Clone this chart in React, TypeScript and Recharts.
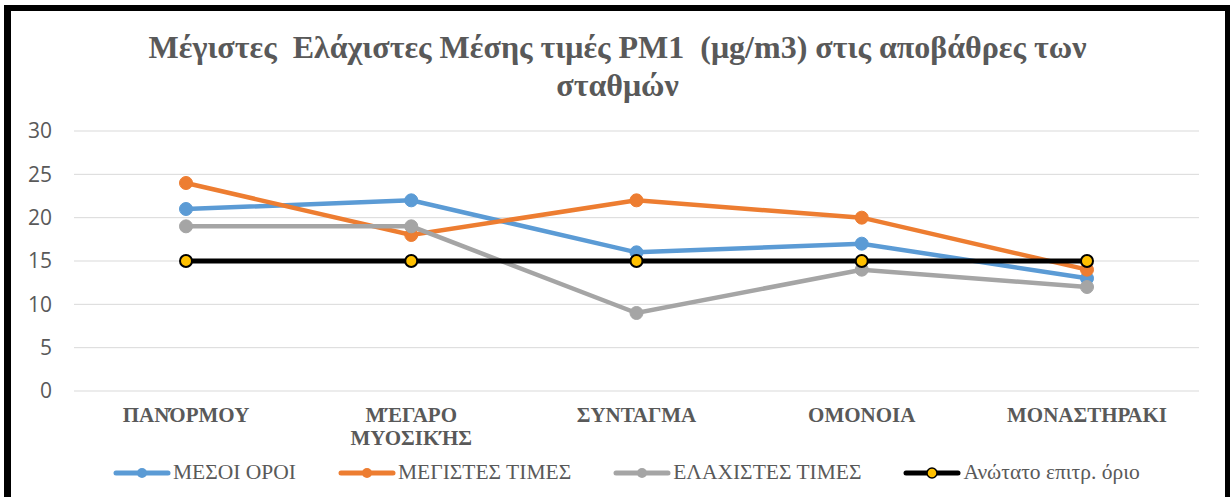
import React from 'react'
import { LineChart, Line, CartesianGrid, XAxis, YAxis } from 'recharts'

const stations = ['ΠΑΝΌΡΜΟΥ', 'ΜΈΓΑΡΟ ΜΥΟΣΙΚΉΣ', 'ΣΥΝΤΑΓΜΑ', 'ΟΜΟΝΟΙΑ', 'ΜΟΝΑΣΤΗΡΑΚΙ']
const meanValues = [21, 22, 16, 17, 13]
const maxValues = [24, 18, 22, 20, 14]
const minValues = [19, 19, 9, 14, 12]
const limitValues = [15, 15, 15, 15, 15]
const yTicks = [0, 5, 10, 15, 20, 25, 30]

const series = [
  { key: 'mean', name: 'ΜΕΣΟΙ ΟΡΟΙ', color: '#5B9BD5' },
  { key: 'max', name: 'ΜΕΓΙΣΤΕΣ ΤΙΜΕΣ', color: '#ED7D31' },
  { key: 'min', name: 'ΕΛΑΧΙΣΤΕΣ ΤΙΜΕΣ', color: '#A5A5A5' },
  { key: 'limit', name: 'Ανώτατο επιτρ. όριο', color: '#000000' },
]

const data = stations.map((station, i) => ({
  station,
  mean: meanValues[i],
  max: maxValues[i],
  min: minValues[i],
  limit: limitValues[i],
}))

const gray = '#595959'

function StationTick({ x, y, payload }: any) {
  const lines = String(payload.value).split(' ')
  return (
    <text
      x={x}
      y={y}
      textAnchor="middle"
      fill={gray}
      fontFamily="'Liberation Serif', serif"
      fontWeight="bold"
      fontSize={21}
    >
      {lines.map((line, i) => (
        <tspan key={i} x={x} dy={i === 0 ? 31 : 23}>
          {line}
        </tspan>
      ))}
    </text>
  )
}

function LegendIcon({ color, isLimit }: { color: string; isLimit: boolean }) {
  return (
    <svg width={58} height={16} style={{ display: 'block' }}>
      <line x1={3} y1={8} x2={55} y2={8} stroke={color} strokeWidth={5} strokeLinecap="round" />
      {isLimit ? (
        <circle cx={29} cy={8} r={5} fill="#FFC000" stroke="#000" strokeWidth={1.5} />
      ) : (
        <circle cx={29} cy={8} r={5} fill={color} />
      )}
    </svg>
  )
}

export default function App() {
  return (
    <div
      style={{
        position: 'absolute',
        left: 0,
        top: 0,
        width: 1230,
        height: 497,
        overflow: 'hidden',
        background: '#fff',
      }}
    >
      <div
        style={{
          position: 'absolute',
          left: 4,
          top: 5,
          width: 1227,
          height: 600,
          boxSizing: 'border-box',
          borderStyle: 'solid',
          borderColor: '#000',
          borderWidth: '6px 6px 0 7px',
        }}
      />
      <div
        style={{
          position: 'absolute',
          left: 4,
          top: 28,
          width: 1227,
          textAlign: 'center',
          fontFamily: "'Liberation Serif', serif",
          fontWeight: 'bold',
          fontSize: 32,
          lineHeight: '38px',
          color: gray,
        }}
      >
        Μέγιστες&nbsp; Ελάχιστες Μέσης τιμές PM1&nbsp; (μg/m3) στις αποβάθρες των
        <br />
        σταθμών
      </div>
      <div style={{ position: 'absolute', left: 0, top: 0 }}>
        <LineChart width={1230} height={497} data={data} margin={{ top: 131, right: 31, left: 0, bottom: 46 }}>
          <CartesianGrid vertical={false} stroke="#D9D9D9" strokeWidth={1} />
          <XAxis
            dataKey="station"
            axisLine={false}
            tickLine={false}
            tickSize={0}
            tickMargin={0}
            height={60}
            interval={0}
            padding={{ left: 112, right: 112 }}
            tick={<StationTick />}
          />
          <YAxis
            domain={[0, 30]}
            ticks={yTicks}
            width={74}
            axisLine={false}
            tickLine={false}
            tickSize={0}
            tickMargin={22}
            tick={{ fill: gray, fontSize: 21, fontFamily: "'Open Sans', sans-serif" }}
          />
          {series.map((s) =>
            s.key === 'limit' ? (
              <Line
                key={s.key}
                dataKey={s.key}
                name={s.name}
                stroke={s.color}
                strokeWidth={5}
                dot={{ r: 6, fill: '#FFC000', stroke: '#000', strokeWidth: 2 }}
                isAnimationActive={false}
              />
            ) : (
              <Line
                key={s.key}
                dataKey={s.key}
                name={s.name}
                type="linear"
                stroke={s.color}
                strokeWidth={4.5}
                dot={{ r: 6.5, fill: s.color, stroke: s.color, strokeWidth: 1 }}
                isAnimationActive={false}
              />
            )
          )}
        </LineChart>
      </div>
      <div
        style={{
          position: 'absolute',
          left: 113,
          top: 460,
          display: 'flex',
          alignItems: 'center',
          gap: 42,
          fontFamily: "'Liberation Serif', serif",
          fontSize: 21.5,
          color: gray,
        }}
      >
        {series.map((s) => (
          <div key={s.key} style={{ display: 'flex', alignItems: 'center', whiteSpace: 'nowrap' }}>
            <LegendIcon color={s.color} isLimit={s.key === 'limit'} />
            <span style={{ marginLeft: 2 }}>{s.name}</span>
          </div>
        ))}
      </div>
    </div>
  )
}
